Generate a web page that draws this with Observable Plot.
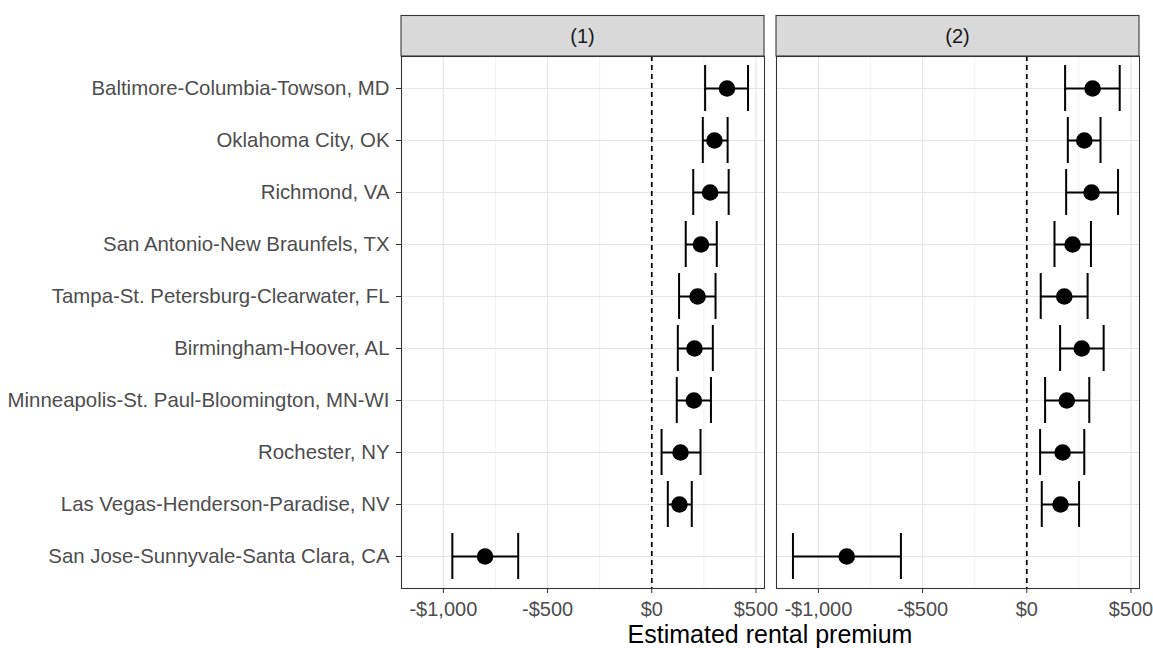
<!DOCTYPE html>
<html><head><meta charset="utf-8">
<script src="https://cdn.jsdelivr.net/npm/d3@7"></script>
<script src="https://cdn.jsdelivr.net/npm/@observablehq/plot@0.6"></script>
<style>
body{margin:0;background:#fff;font-family:"Liberation Sans",Arial,sans-serif;}
#wrap{position:relative;width:1153px;height:648px;overflow:hidden;}
#p1{position:absolute;left:0;top:0}
#p2{position:absolute;left:770px;top:0}
#xtitle{position:absolute;left:401px;width:738px;top:622px;line-height:25px;text-align:center;font-size:25px;color:#000}
</style></head>
<body>
<div id="wrap"><div id="p1"></div><div id="p2"></div><div id="xtitle">Estimated rental premium</div></div>
<script>
const metros = [
  "Baltimore-Columbia-Towson, MD",
  "Oklahoma City, OK",
  "Richmond, VA",
  "San Antonio-New Braunfels, TX",
  "Tampa-St. Petersburg-Clearwater, FL",
  "Birmingham-Hoover, AL",
  "Minneapolis-St. Paul-Bloomington, MN-WI",
  "Rochester, NY",
  "Las Vegas-Henderson-Paradise, NV",
  "San Jose-Sunnyvale-Santa Clara, CA"
];
const panels = ["(1)", "(2)"];
const est1 = [361, 301, 280, 236, 220, 205, 202, 138, 133, -800];
const lo1  = [256, 245, 199, 163, 131, 125, 120, 47, 77, -957];
const hi1  = [462, 364, 369, 312, 306, 293, 284, 234, 192, -641];
const est2 = [316, 276, 311, 220, 180, 264, 192, 172, 162, -864];
const lo2  = [184, 197, 189, 133, 67, 160, 88, 64, 72, -1122];
const hi2  = [446, 354, 438, 308, 292, 369, 300, 276, 251, -604];
const xTicks = [-1000, -500, 0, 500];
const xMinor = [-750, -250, 250];
const xDomain = [-1201, 541];

const fmt = d => (d < 0 ? "-$" : "$") + d3.format(",")(Math.abs(d));
const FONT = "Liberation Sans, Arial, sans-serif";

function strip(label) {
  return (index, scales, values, dim) => {
    const g = d3.create("svg:g");
    const x0 = dim.marginLeft, x1 = dim.width - dim.marginRight;
    g.append("rect").attr("x", x0).attr("y", 15.5).attr("width", x1 - x0).attr("height", 40.5)
      .attr("fill", "#d9d9d9").attr("stroke", "#333333").attr("stroke-width", 1.07);
    g.append("text").attr("x", (x0 + x1) / 2).attr("y", 36).attr("dy", "0.35em")
      .attr("text-anchor", "middle").attr("font-size", 20).attr("fill", "#1a1a1a")
      .attr("font-family", FONT).text(label);
    return g.node();
  };
}

function makeChart(label, est, lo, hi, showY, width, ml, mr) {
  const data = metros.map((m, i) => ({metro: m, est: est[i], lo: lo[i], hi: hi[i]}));
  const marks = [
    Plot.ruleX(xMinor, {stroke: "#ebebeb", strokeWidth: 0.6}),
    Plot.ruleX(xTicks, {stroke: "#e6e6e6", strokeWidth: 1.2}),
    Plot.ruleY(metros, {y: d => d, stroke: "#e6e6e6", strokeWidth: 1.2}),
    Plot.ruleX([0], {stroke: "black", strokeWidth: 1.7, strokeDasharray: "5,4"}),
    Plot.ruleY(data, {y: "metro", x1: "lo", x2: "hi", stroke: "black", strokeWidth: 2}),
    Plot.tickX(data, {x: "lo", y: "metro", stroke: "black", strokeWidth: 2, insetTop: 3, insetBottom: 3}),
    Plot.tickX(data, {x: "hi", y: "metro", stroke: "black", strokeWidth: 2, insetTop: 3, insetBottom: 3}),
    Plot.dot(data, {x: "est", y: "metro", r: 8.3, fill: "black", stroke: "none"}),
    Plot.frame({stroke: "#333333", strokeWidth: 1.07}),
    Plot.axisX(xTicks, {tickSize: 5, tickPadding: 8, tickFormat: fmt, fontSize: 20, fill: "#4d4d4d", stroke: "#333333", label: null}),
    strip(label)
  ];
  if (showY) marks.push(Plot.axisY(metros, {tickSize: 5, tickPadding: 7, fontSize: 20.4, fill: "#4d4d4d", stroke: "#333333", label: null}));
  return Plot.plot({
    width, height: 648,
    marginLeft: ml, marginRight: mr, marginTop: 56, marginBottom: 60,
    style: {fontFamily: FONT, background: "transparent", overflow: "visible"},
    x: {domain: xDomain},
    y: {domain: metros, type: "band", paddingInner: 0, paddingOuter: 0.1, axis: null},
    marks
  });
}

document.getElementById("p1").appendChild(makeChart(panels[0], est1, lo1, hi1, true, 770, 401, 6));
document.getElementById("p2").appendChild(makeChart(panels[1], est2, lo2, hi2, false, 383, 6, 14));
</script>
</body></html>
